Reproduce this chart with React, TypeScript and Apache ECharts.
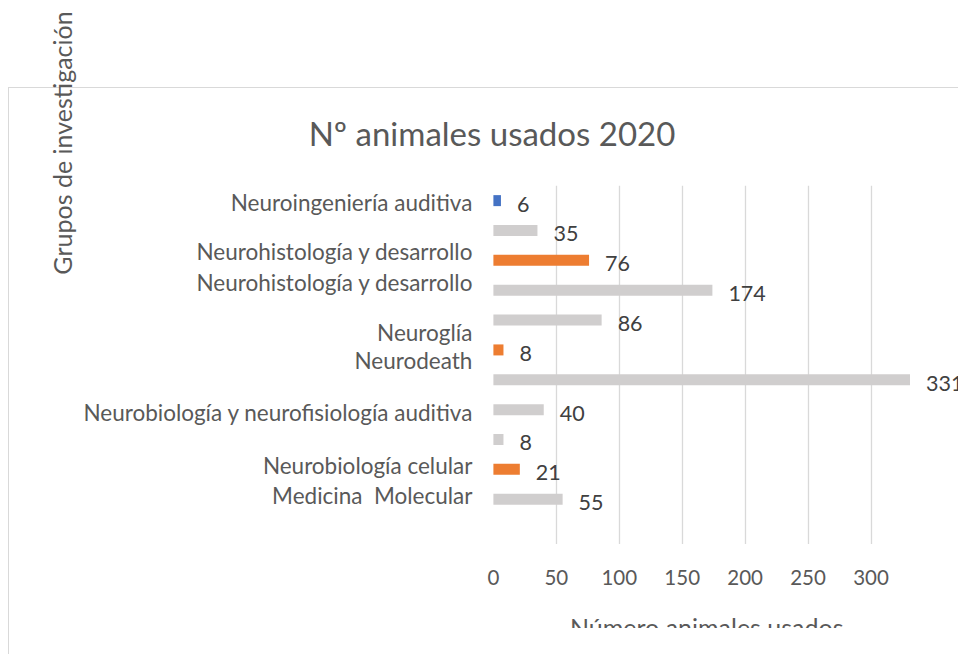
import React, { useEffect, useRef } from 'react';
import * as echarts from 'echarts';

// ---- data ----
const categories = [
  'Neuroingeniería auditiva',
  '',
  'Neurohistología y desarrollo',
  'Neurohistología y desarrollo',
  'Neuroglía',
  'Neurodeath',
  '',
  'Neurobiología y neurofisiología auditiva',
  '',
  'Neurobiología celular',
  'Medicina  Molecular',
  '',
];
const values: (number | null)[] = [6, 35, 76, 174, 86, 8, 331, 40, 8, 21, 55, null];
const colorGroups = ['azul', 'gris', 'naranja', 'gris', 'gris', 'naranja', 'gris', 'gris', 'gris', 'naranja', 'gris', 'gris'];
const xTickStep = 50;

const chartTitle = 'Nº animales usados 2020';
const xName = 'Número animales usados';
const yName = 'Grupos de investigación';

// ---- styles / layout ----
const palette: Record<string, string> = { azul: '#4472C4', naranja: '#ED7D31', gris: '#D0CECE' };
const labelShift = [2, 0, -9, -8, 12, 11, 0, 3, 0, -4, -4, 0];
const FONT = 'Lato, "Noto Sans", sans-serif';
const TEXT = '#595959';

export default function App() {
  const ref = useRef<HTMLDivElement>(null);
  useEffect(() => {
    if (!ref.current) return;
    const chart = echarts.init(ref.current, undefined, { renderer: 'svg' });
    const rich: Record<string, any> = {};
    labelShift.forEach((s, i) => {
      rich['r' + i] = {
        fontSize: 22.5,
        fontFamily: FONT,
        color: TEXT,
        padding: s >= 0 ? [2 * s, 0, 0, 0] : [0, 0, -2 * s, 0],
      };
    });
    chart.setOption({
      animation: false,
      textStyle: { fontFamily: FONT },
      title: {
        text: chartTitle,
        left: 487,
        top: 111,
        textAlign: 'center',
        textStyle: { fontSize: 33, fontWeight: 'normal', color: TEXT, fontFamily: FONT },
      },
      grid: { left: 493.4, top: 185.7, height: 358.3, right: 48, containLabel: false, outerBoundsMode: 'none' },
      xAxis: {
        type: 'value',
        min: 0,
        max: 'dataMax',
        interval: xTickStep,
        axisLine: { show: false },
        axisTick: { show: false },
        axisLabel: { fontSize: 20.5, color: TEXT, margin: 22, showMaxLabel: false, fontFamily: FONT },
        splitLine: { show: true, showMinLine: false, showMaxLine: false, lineStyle: { color: '#D9D9D9', width: 1.3 } },
        name: xName,
        nameLocation: 'middle',
        nameGap: 70,
        nameTextStyle: { fontSize: 25, color: TEXT, fontFamily: FONT, padding: [0, 0, 0, 10] },
      },
      yAxis: {
        type: 'category',
        inverse: true,
        data: categories,
        axisLine: { show: false },
        axisTick: { show: false },
        axisLabel: {
          interval: 0,
          margin: 21,
          fontSize: 22.5,
          color: TEXT,
          fontFamily: FONT,
          formatter: (v: string, i: number) => (v ? `{r${i}|${v}}` : ''),
          rich,
        },
      },
      graphic: [
        {
          type: 'text',
          x: 62,
          y: 143,
          rotation: Math.PI / 2,
          style: {
            text: yName,
            fontSize: 25,
            fontFamily: FONT,
            fill: TEXT,
            align: 'center',
            verticalAlign: 'middle',
          },
        },
      ],
      series: [
        {
          type: 'bar',
          barWidth: 11,
          data: values.map((v, i) => ({ value: v, itemStyle: { color: palette[colorGroups[i]] } })),
          label: {
            show: true,
            position: 'right',
            distance: 16,
            offset: [0, 3],
            fontSize: 21.5,
            color: '#404040',
            fontFamily: FONT,
            formatter: (p: any) => (p.value == null ? '' : String(p.value)),
          },
        },
      ],
    });
    return () => chart.dispose();
  }, []);
  return (
    <div style={{ position: 'fixed', left: 0, top: 0, width: 958, height: 654, overflow: 'hidden', background: '#fff' }}>
      <div
        style={{
          position: 'absolute',
          left: 8,
          top: 86.5,
          width: 1100,
          height: 1100,
          border: '1.5px solid #D9D9D9',
          boxSizing: 'border-box',
        }}
      />
      <div ref={ref} style={{ position: 'absolute', left: 0, top: 0, width: 958, height: 628 }} />
    </div>
  );
}
